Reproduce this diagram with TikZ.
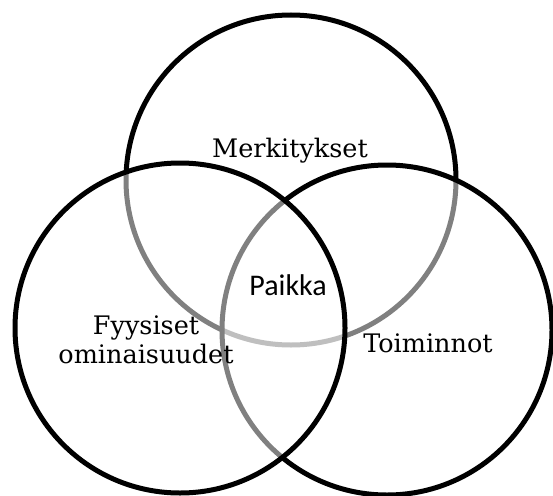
\documentclass[tikz,border=0pt]{standalone}
\usepackage{fontspec}
\setmainfont{DejaVu Serif}
\newfontfamily\labelsans{Carlito}
\begin{document}
\begin{tikzpicture}[x=1pt,y=-1pt,
  ring/.style={circle,draw=black,line width=5pt,fill=white,fill opacity=0.5,
    inner sep=0pt,minimum size=330pt},
  serlabel/.style={anchor=base,inner sep=0pt,font=\fontsize{25.5}{30}\selectfont},
  midlabel/.style={anchor=base,inner sep=0pt,font=\labelsans\fontsize{30}{36}\selectfont}]
  \useasboundingbox (0,0) rectangle (553,495);
  % the three sets, stacked top, right, left
  \node[ring] (top) at (291,180) {};
  \node[ring] (right) at (387,330) {};
  \node[ring] (left) at (180,328) {};
  % labels
  \node[serlabel] (merk) at (290,157) {Merkitykset};
  \node[serlabel] (fys1) at (146,334) {Fyysiset};
  \node[serlabel] (fys2) at (146,363) {ominaisuudet};
  \node[serlabel] (toim) at (428,352) {Toiminnot};
  \node[midlabel] (paikka) at (288,295) {Paikka};
\end{tikzpicture}
\end{document}
